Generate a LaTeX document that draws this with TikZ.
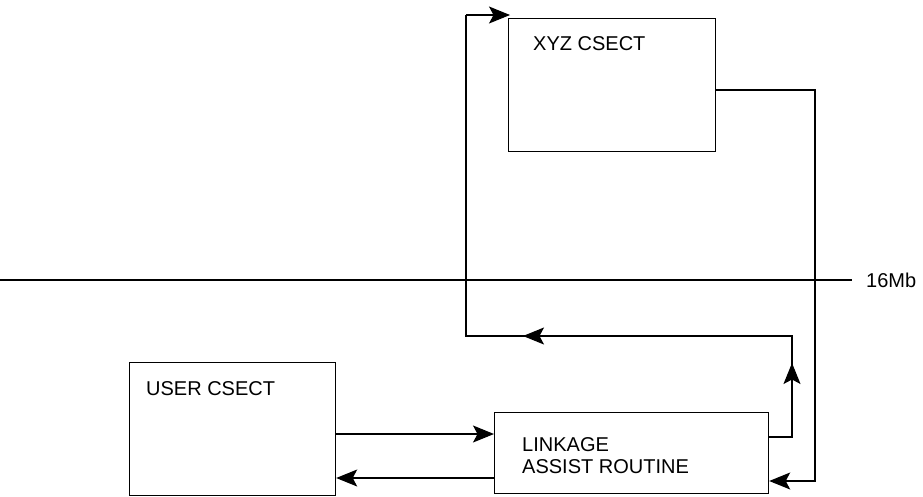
\documentclass[tikz,border=0pt]{standalone}
\usepackage{fontspec}
\setmainfont{Liberation Sans}
\usetikzlibrary{arrows.meta}
\begin{document}
\begin{tikzpicture}[x=1pt,y=-1pt,
  box/.style={draw,line width=1.2pt,inner sep=0pt,anchor=north west},
  txt/.style={anchor=base west,inner sep=0pt,font=\fontsize{20}{22}\selectfont,align=left},
  wire/.style={line width=1.2pt},
  arr/.style={wire,-{Stealth[length=21pt,width=17pt,inset=4.5pt]}}]
\useasboundingbox (0,0) rectangle (923,496);
% boxes
\node[box,minimum width=207pt,minimum height=133pt] (xyz) at (508,18) {};
\node[box,minimum width=206pt,minimum height=133pt] (user) at (129,362) {};
\node[box,minimum width=274pt,minimum height=81pt] (link) at (494,412) {};
% labels
\node[txt] (xyzt) at (533,50) {XYZ CSECT};
\node[txt] (usert) at (146,395) {USER CSECT};
\node[txt] (linkt) at (522,473) {LINKAGE\\ASSIST ROUTINE};
% 16Mb line
\node[txt] (mb) at (866,287) {16Mb};
\coordinate (l0) at (0,280);
\draw[wire] (l0) -- ([xshift=-14pt]mb.west |- l0);
% user <-> linkage
\draw[arr] (user.east |- 0,434) -- (link.west |- 0,434);
\draw[arr] (link.west |- 0,478) -- (user.east |- 0,478);
% xyz -> linkage
\coordinate (r1) at (815,90);
\draw[arr] (xyz.east |- r1) -- (r1) -- (r1 |- 0,481) -- (link.east |- 0,481);
% linkage -> xyz loop
\coordinate (c1) at (792,437);
\coordinate (c2) at (792,336);
\coordinate (c3) at (466,336);
\coordinate (c4) at (466,15);
\draw[wire] (link.east |- c1) -- (c1) -- (c2) -- (c3) -- (c4);
\draw[arr] (c4) -- (xyz.north west |- c4) -- ++(2,0);
\draw[arr] (792,392) -- (792,363);
\draw[arr] (555,336) -- (523,336);
\end{tikzpicture}
\end{document}
